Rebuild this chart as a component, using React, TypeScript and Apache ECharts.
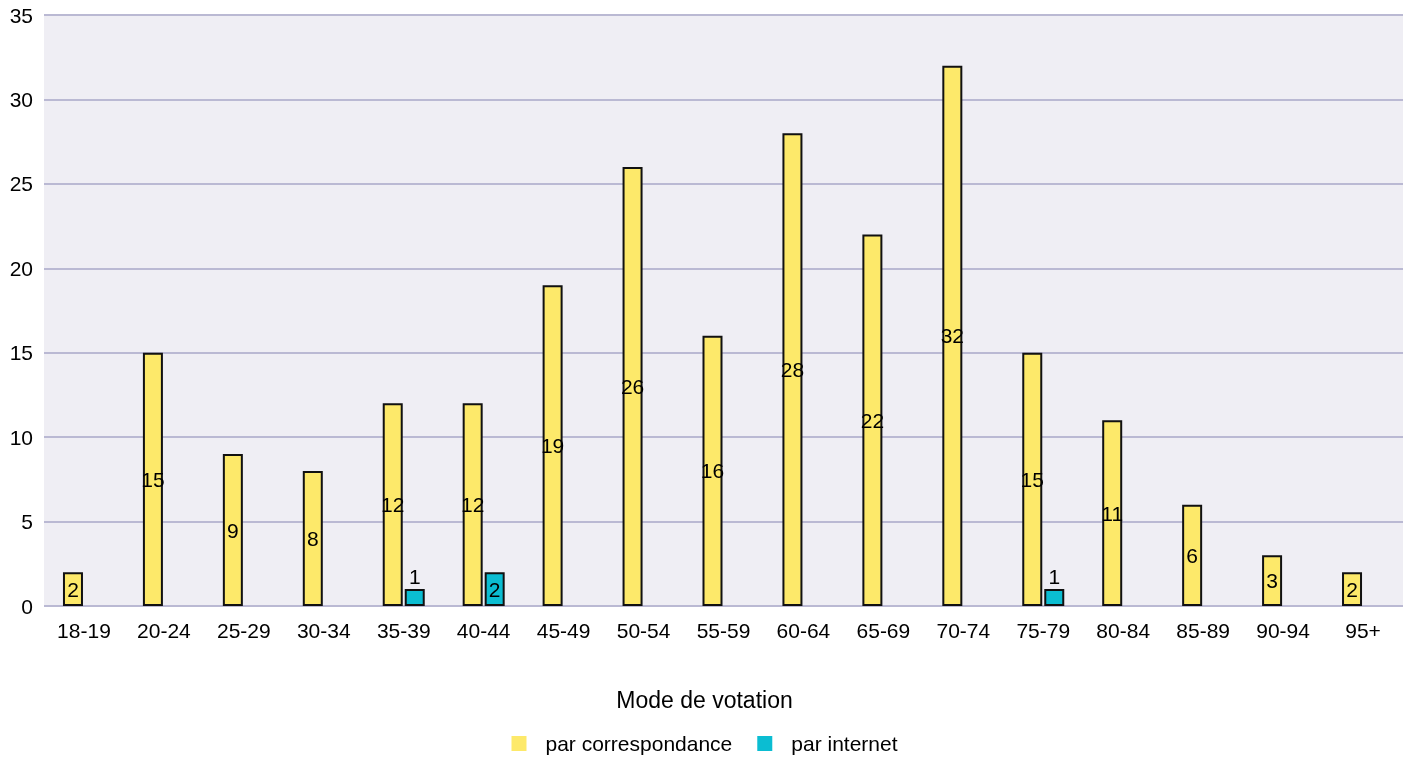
import React, { useEffect, useRef } from "react";
import * as echarts from "echarts";

const categories = ["18-19","20-24","25-29","30-34","35-39","40-44","45-49","50-54","55-59","60-64","65-69","70-74","75-79","80-84","85-89","90-94","95+"];
const correspondance = [2,15,9,8,12,12,19,26,16,28,22,32,15,11,6,3,2];
const internet = [null,null,null,null,1,2,null,null,null,null,null,null,1,null,null,null,null];
const yTicks = { min: 0, max: 35, interval: 5 };

const FONT = "Liberation Sans, Arial, sans-serif";
const FS = 21;

export default function App() {
  const ref = useRef<HTMLDivElement>(null);
  useEffect(() => {
    const chart = echarts.init(ref.current!, null, { renderer: "svg" });
    const labelFor = (v: number | null) =>
      v === null ? v : {
        value: v,
        label: { position: v <= 1 ? "top" : "inside" },
      };
    chart.setOption({
      animation: false,
      title: {
        text: "Mode de votation",
        left: "center",
        top: 683,
        textStyle: { fontFamily: FONT, fontSize: 23, fontWeight: "normal", color: "#000" },
      },
      legend: {
        top: 728,
        left: "center",
        itemWidth: 15,
        itemHeight: 15,
        itemGap: 25,
        icon: "rect",
        itemStyle: { borderWidth: 0 },
        textStyle: { fontFamily: FONT, fontSize: FS, color: "#000", padding: [0, 0, 0, 14] },
        data: ["par correspondance", "par internet"],
      },
      grid: {
        left: 44,
        right: 6,
        top: 15,
        bottom: 153,
        show: true,
        backgroundColor: "#efeef4",
        borderWidth: 0,
      },
      xAxis: {
        type: "category",
        data: categories,
        axisLine: { show: false },
        axisTick: { show: false },
        axisLabel: { fontFamily: FONT, fontSize: FS, color: "#000", margin: 14 },
      },
      yAxis: {
        type: "value",
        min: yTicks.min,
        max: yTicks.max,
        interval: yTicks.interval,
        axisLine: { show: false },
        axisTick: { show: false },
        axisLabel: { fontFamily: FONT, fontSize: FS, color: "#000", margin: 11 },
        splitLine: { lineStyle: { color: "#bab9d3", width: 2 } },
      },
      series: [
        {
          name: "par correspondance",
          type: "bar",
          barWidth: 20,
          barGap: "10%",
          data: correspondance.map(labelFor),
          itemStyle: { color: "#fde96a", borderColor: "#111", borderWidth: 2 },
          label: { show: true, position: "inside", fontFamily: FONT, fontSize: FS, color: "#000" },
        },
        {
          name: "par internet",
          type: "bar",
          barWidth: 20,
          barGap: "10%",
          data: internet.map(labelFor),
          itemStyle: { color: "#0bbdd2", borderColor: "#111", borderWidth: 2 },
          label: { show: true, position: "inside", distance: 2, fontFamily: FONT, fontSize: FS, color: "#000" },
        },
      ],
    });
    return () => chart.dispose();
  }, []);
  return (
    <div
      ref={ref}
      style={{ position: "fixed", left: 0, top: 0, width: 1409, height: 759 }}
    />
  );
}
